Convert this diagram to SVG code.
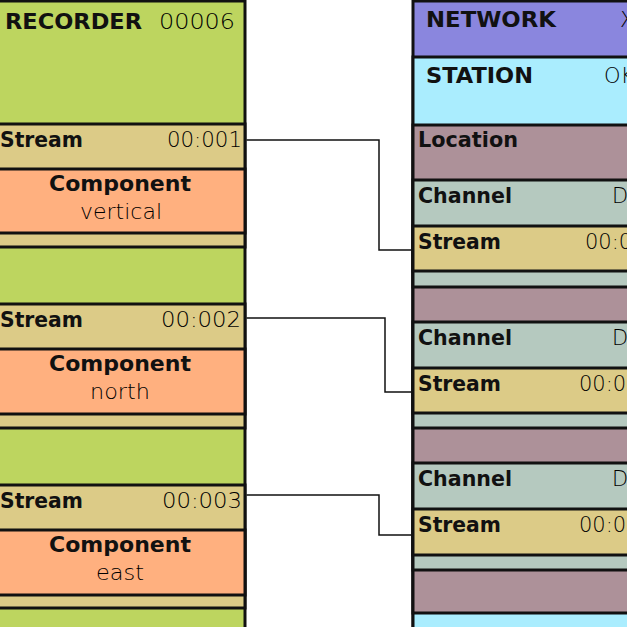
<svg xmlns="http://www.w3.org/2000/svg" width="627" height="627" viewBox="0 0 627 627">
<style>
rect{stroke:#111;stroke-width:3}
.rec{fill:#bdd55f}
.str{fill:#dccb87}
.cmp{fill:#ffb07f}
.net{fill:#8a86de}
.sta{fill:#aaedfe}
.loc{fill:#ad9199}
.cha{fill:#b5c9bf}
.b{font-family:"DejaVu Sans","Liberation Sans",sans-serif;font-weight:700;font-size:21px;fill:#111}
.l{font-family:"DejaVu Sans","Open Sans","Liberation Sans",sans-serif;font-weight:200;font-size:21px;fill:#000}
.conn{fill:none;stroke:#111;stroke-width:1.5}
</style>
<g id="recorder">
<rect class="rec" x="-10" y="1" width="255" height="700"/>
<text class="b" x="5" y="29" textLength="137" lengthAdjust="spacingAndGlyphs">RECORDER</text>
<text class="l" x="159" y="29" textLength="76" lengthAdjust="spacingAndGlyphs">00006</text>
</g>
<g id="stream-r1">
<rect class="str" x="-10" y="124" width="255" height="123"/>
<text class="b" x="0" y="147" textLength="83" lengthAdjust="spacingAndGlyphs">Stream</text>
<text class="l" x="167" y="147" textLength="75" lengthAdjust="spacingAndGlyphs">00:001</text>
</g>
<g id="component-1">
<rect class="cmp" x="-10" y="169" width="255" height="64"/>
<text class="b" x="49" y="191" textLength="142" lengthAdjust="spacingAndGlyphs">Component</text>
<text class="l" x="80" y="219" textLength="82" lengthAdjust="spacingAndGlyphs">vertical</text>
</g>
<g id="stream-r2">
<rect class="str" x="-10" y="304" width="255" height="124"/>
<text class="b" x="0" y="327" textLength="83" lengthAdjust="spacingAndGlyphs">Stream</text>
<text class="l" x="161" y="327" textLength="80" lengthAdjust="spacingAndGlyphs">00:002</text>
</g>
<g id="component-2">
<rect class="cmp" x="-10" y="349" width="255" height="65"/>
<text class="b" x="49" y="371" textLength="142" lengthAdjust="spacingAndGlyphs">Component</text>
<text class="l" x="90" y="399" textLength="60" lengthAdjust="spacingAndGlyphs">north</text>
</g>
<g id="stream-r3">
<rect class="str" x="-10" y="485" width="255" height="123"/>
<text class="b" x="0" y="508" textLength="83" lengthAdjust="spacingAndGlyphs">Stream</text>
<text class="l" x="162" y="508" textLength="80" lengthAdjust="spacingAndGlyphs">00:003</text>
</g>
<g id="component-3">
<rect class="cmp" x="-10" y="530" width="255" height="65"/>
<text class="b" x="49" y="552" textLength="142" lengthAdjust="spacingAndGlyphs">Component</text>
<text class="l" x="96" y="580" textLength="48" lengthAdjust="spacingAndGlyphs">east</text>
</g>
<g id="network">
<rect class="net" x="413" y="1" width="300" height="700"/>
<text class="b" x="426" y="27" textLength="130" lengthAdjust="spacingAndGlyphs">NETWORK</text>
<text class="l" x="620" y="27">X</text>
</g>
<g id="station">
<rect class="sta" x="413" y="57" width="300" height="700"/>
<text class="b" x="426" y="83" textLength="107" lengthAdjust="spacingAndGlyphs">STATION</text>
<text class="l" x="604" y="83">OK</text>
</g>
<g id="location">
<rect class="loc" x="413" y="125" width="300" height="488"/>
<text class="b" x="418" y="147" textLength="100" lengthAdjust="spacingAndGlyphs">Location</text>
</g>
<g id="channel-1">
<rect class="cha" x="413" y="180" width="300" height="107"/>
<text class="b" x="418" y="203" textLength="94" lengthAdjust="spacingAndGlyphs">Channel</text>
<text class="l" x="612" y="203">D</text>
</g>
<g id="stream-n1">
<rect class="str" x="413" y="226" width="300" height="45"/>
<text class="b" x="418" y="249" textLength="83" lengthAdjust="spacingAndGlyphs">Stream</text>
<text class="l" x="585" y="249">00:001</text>
</g>
<g id="channel-2">
<rect class="cha" x="413" y="322" width="300" height="106"/>
<text class="b" x="418" y="345" textLength="94" lengthAdjust="spacingAndGlyphs">Channel</text>
<text class="l" x="612" y="345">D</text>
</g>
<g id="stream-n2">
<rect class="str" x="413" y="368" width="300" height="45"/>
<text class="b" x="418" y="391" textLength="83" lengthAdjust="spacingAndGlyphs">Stream</text>
<text class="l" x="579" y="391">00:002</text>
</g>
<g id="channel-3">
<rect class="cha" x="413" y="463" width="300" height="107"/>
<text class="b" x="418" y="486" textLength="94" lengthAdjust="spacingAndGlyphs">Channel</text>
<text class="l" x="612" y="486">D</text>
</g>
<g id="stream-n3">
<rect class="str" x="413" y="509" width="300" height="46"/>
<text class="b" x="418" y="532" textLength="83" lengthAdjust="spacingAndGlyphs">Stream</text>
<text class="l" x="579" y="532">00:003</text>
</g>
<g id="connectors">
<path class="conn" d="M246.5 140 H379 V250 H411.5"/>
<path class="conn" d="M246.5 318 H385 V392 H411.5"/>
<path class="conn" d="M246.5 495 H379 V535 H411.5"/>
</g>
</svg>
